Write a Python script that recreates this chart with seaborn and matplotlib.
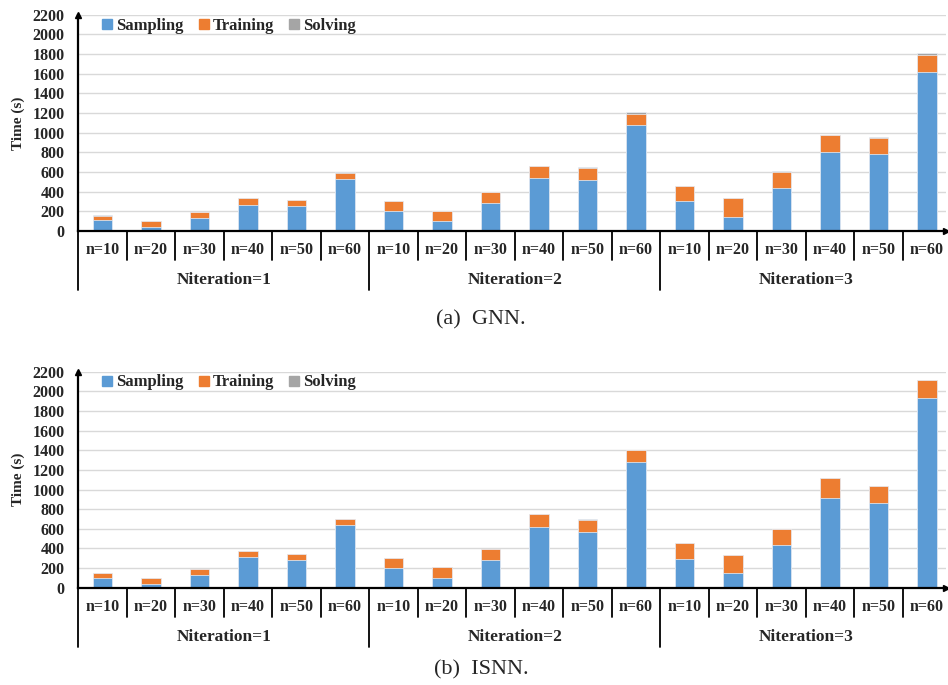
import matplotlib
matplotlib.use("Agg")
import matplotlib.pyplot as plt
import matplotlib.transforms as mtransforms
from matplotlib.lines import Line2D
import numpy as np
import pandas as pd
import seaborn as sns

n_labels = ["n=10", "n=20", "n=30", "n=40", "n=50", "n=60"]
iter_labels = ["Niteration=1", "Niteration=2", "Niteration=3"]

gnn_sampling = [109, 41, 136, 268, 258, 526,
                207, 98, 282, 536, 523, 1076,
                306, 146, 438, 805, 781, 1619]
gnn_training = [47, 57, 54, 63, 59, 61,
                95, 106, 115, 121, 120, 116,
                149, 190, 163, 169, 170, 170]
gnn_solving = [2, 2, 2, 3, 2, 10,
               3, 3, 4, 5, 3, 17,
               4, 3, 5, 7, 4, 21]

isnn_sampling = [95, 41, 132, 309, 278, 638,
                 197, 95, 278, 614, 570, 1277,
                 292, 146, 438, 917, 859, 1928]
isnn_training = [54, 57, 58, 61, 62, 61,
                 109, 112, 119, 133, 123, 122,
                 166, 187, 163, 197, 177, 187]
isnn_solving = [1, 1, 1, 2, 2, 2,
                1, 1, 2, 2, 2, 3,
                2, 2, 2, 3, 3, 4]

captions = ["(a)  GNN.", "(b)  ISNN."]

BLUE, ORANGE, GRAY = "#5B9BD5", "#ED7D31", "#A5A5A5"

sns.set_style("white")
plt.rcParams["font.family"] = ["Liberation Serif", "DejaVu Serif"]

slots = [f"{i}|{n}" for i in range(1, 4) for n in n_labels]


def draw_panel(ax, sampling, training, solving):
    df = pd.DataFrame({"slot": slots, "sampling": sampling,
                       "training": training, "solving": solving})
    df["s_t"] = df["sampling"] + df["training"]
    df["total"] = df["s_t"] + df["solving"]
    # stacked look: draw cumulative heights back to front
    for col, color in [("total", GRAY), ("s_t", ORANGE), ("sampling", BLUE)]:
        sns.barplot(data=df, x="slot", y=col, order=slots, color=color,
                    saturation=1, width=0.4, errorbar=None,
                    edgecolor="#EAF1FA", linewidth=0.5, ax=ax, zorder=3)

    ax.set_xlim(-0.5, 17.39)
    ax.set_ylim(0, 2200)
    ax.set_yticks(np.arange(0, 2201, 200))
    ax.yaxis.grid(True, color="#D9D9D9", linewidth=1.0, zorder=0)
    ax.set_axisbelow(True)
    ax.set_xticks([])
    ax.set_xlabel("")
    ax.set_ylabel("")
    ax.tick_params(axis="y", length=0, pad=10, labelsize=11.5)
    for lab in ax.get_yticklabels():
        lab.set_fontweight("bold")
    for s in ["top", "right"]:
        ax.spines[s].set_visible(False)
    for s in ["left", "bottom"]:
        ax.spines[s].set_color("black")
        ax.spines[s].set_linewidth(1.6)
        ax.spines[s].set_zorder(5)
    ax.plot(1, 0, ">k", ms=5, transform=ax.transAxes, clip_on=False, zorder=6)
    ax.plot(0, 1, "^k", ms=5, transform=ax.transAxes, clip_on=False, zorder=6)

    trans = mtransforms.blended_transform_factory(ax.transData, ax.transAxes)
    for k in range(len(slots)):
        ax.text(k, -0.088, n_labels[k % 6], transform=trans, ha="center",
                va="center", fontsize=11.5, fontweight="bold")
        x = k - 0.5
        depth = -0.273 if k % 6 == 0 else -0.134
        ax.add_line(Line2D([x, x], [0, depth], transform=trans,
                           color="black", lw=1.3, clip_on=False))
    for g, lab in enumerate(iter_labels):
        ax.text(g * 6 + 2.5, -0.227, lab, transform=trans, ha="center",
                va="center", fontsize=12.5, fontweight="bold")

    handles = [Line2D([], [], marker="s", linestyle="", color=c, ms=7.5)
               for c in (BLUE, ORANGE, GRAY)]
    ax.legend(handles, ["Sampling", "Training", "Solving"], ncol=3,
              loc="center left", bbox_to_anchor=(0.018, 0.95), frameon=False,
              handlelength=0.6, handletextpad=0.25, columnspacing=0.9,
              borderpad=0, prop={"weight": "bold", "size": 12})


fig = plt.figure(figsize=(9.48, 6.85), dpi=100)
ax1 = fig.add_axes([0.0826, 0.6628, 0.9153, 0.3157])
ax2 = fig.add_axes([0.0826, 0.1420, 0.9153, 0.3154])
draw_panel(ax1, gnn_sampling, gnn_training, gnn_solving)
draw_panel(ax2, isnn_sampling, isnn_training, isnn_solving)

for ax, ypix, cap in [(ax1, 320, captions[0]), (ax2, 670, captions[1])]:
    box = ax.get_position()
    fig.text(18 / 948, box.y0 + box.height / 2, "Time (s)", rotation=90,
             ha="center", va="center", fontsize=11, fontweight="bold")
    fig.text(481 / 948, 1 - ypix / 685, cap, ha="center", va="center",
             fontsize=16)

fig.savefig("out.png", dpi=100)
